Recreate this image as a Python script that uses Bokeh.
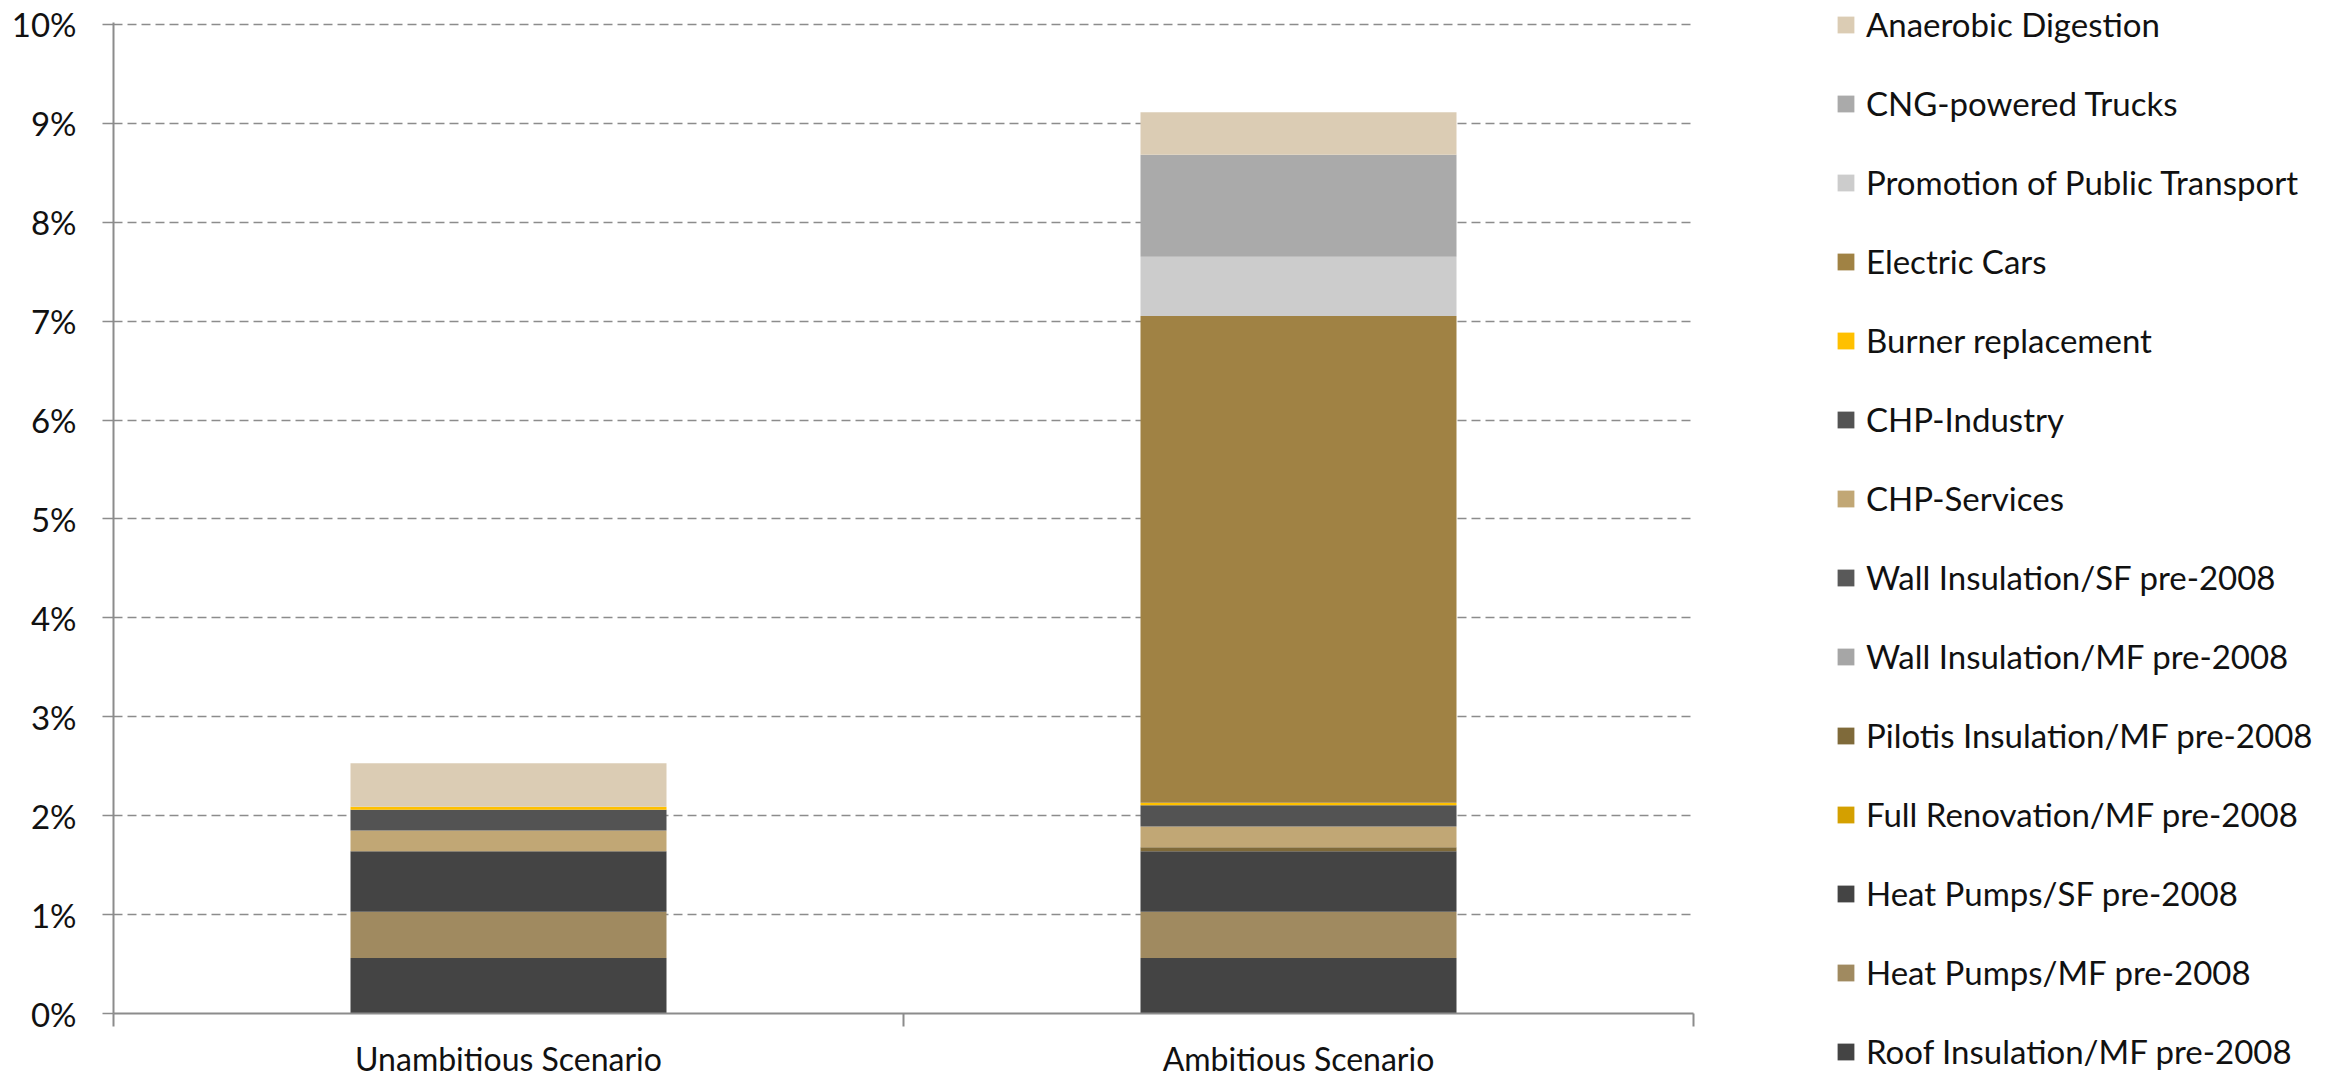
from bokeh.plotting import figure
from bokeh.layouts import row
from bokeh.models import Range1d, FixedTicker, Legend, LegendItem
from bokeh.embed import file_html
from bokeh.resources import INLINE

scenarios = ["Unambitious Scenario", "Ambitious Scenario"]

# series, bottom of the stack first (values in %)
series_names = [
    "Roof Insulation/MF pre-2008",
    "Heat Pumps/MF pre-2008",
    "Heat Pumps/SF pre-2008",
    "Full Renovation/MF pre-2008",
    "Pilotis Insulation/MF pre-2008",
    "Wall Insulation/MF pre-2008",
    "Wall Insulation/SF pre-2008",
    "CHP-Services",
    "CHP-Industry",
    "Burner replacement",
    "Electric Cars",
    "Promotion of Public Transport",
    "CNG-powered Trucks",
    "Anaerobic Digestion",
]
roof_mf = [0.56, 0.56]
heat_pumps_mf = [0.47, 0.47]
heat_pumps_sf = [0.61, 0.61]
full_renovation_mf = [0.0, 0.0]
pilotis_mf = [0.0, 0.04]
wall_mf = [0.0, 0.0]
wall_sf = [0.0, 0.0]
chp_services = [0.21, 0.21]
chp_industry = [0.21, 0.215]
burner = [0.03, 0.027]
electric_cars = [0.0, 4.92]
public_transport = [0.0, 0.60]
cng_trucks = [0.0, 1.03]
anaerobic = [0.44, 0.43]

colors = ["#444444", "#A08A60", "#444444", "#D4A000", "#7F6A3A", "#A6A6A6",
          "#595959", "#C1A775", "#535353", "#FFC000", "#A08244", "#CCCCCC",
          "#AAAAAA", "#DBCCB4"]

y_ticks = list(range(0, 11))

FONT = "Lato"
FS = "33px"

# category slots: scenario i occupies [i, i+1] on the x scale
n_cat = len(scenarios)
centers = [i + 0.5 for i in range(n_cat)]
edges = list(range(n_cat + 1))

series_values = [roof_mf, heat_pumps_mf, heat_pumps_sf, full_renovation_mf,
                 pilotis_mf, wall_mf, wall_sf, chp_services, chp_industry,
                 burner, electric_cars, public_transport, cng_trucks, anaerobic]
data = {"x": centers}
for name, vals in zip(series_names, series_values):
    data[name] = vals

p = figure(width=1700, height=1080, output_backend="svg", toolbar_location=None,
           x_range=Range1d(0, n_cat), y_range=Range1d(0, 10.02),
           min_border_left=113, min_border_right=7, min_border_top=22,
           min_border_bottom=64)
p.outline_line_color = None
p.background_fill_color = "white"
p.border_fill_color = "white"

renderers = p.vbar_stack(series_names, x="x", width=0.4, source=data,
                         color=colors, line_color=None)

xa = p.xaxis[0]
xa.ticker = FixedTicker(ticks=centers, minor_ticks=edges)
xa.major_label_overrides = {c: s for c, s in zip(centers, scenarios)}
xa.major_tick_out = 0
xa.major_tick_in = 0
xa.major_tick_line_color = None
xa.minor_tick_out = 13
xa.minor_tick_in = 0
xa.minor_tick_line_color = "#8c8c8c"
xa.minor_tick_line_width = 2
xa.axis_line_color = "#8c8c8c"
xa.axis_line_width = 2
xa.major_label_standoff = 12
xa.major_label_text_font = FONT
xa.major_label_text_font_size = "32px"
xa.major_label_text_color = "#111111"

ya = p.yaxis[0]
ya.ticker = FixedTicker(ticks=y_ticks)
ya.major_label_overrides = {t: f"{t}%" for t in y_ticks}
ya.major_tick_out = 11
ya.major_tick_in = 0
ya.minor_tick_line_color = None
ya.axis_line_color = "#8c8c8c"
ya.axis_line_width = 2
ya.major_tick_line_color = "#8c8c8c"
ya.major_tick_line_width = 1.5
ya.major_label_standoff = 26
ya.major_label_text_font = FONT
ya.major_label_text_font_size = FS
ya.major_label_text_color = "#111111"

p.xgrid.visible = False
p.ygrid.ticker = FixedTicker(ticks=y_ticks[1:])
p.ygrid.grid_line_color = "#8c8c8c"
p.ygrid.grid_line_dash = "9 5"
p.ygrid.grid_line_width = 1.5

# legend panel: its own figure to the right of the chart
q = figure(width=649, height=1080, output_backend="svg", toolbar_location=None,
           x_range=Range1d(0, 1), y_range=Range1d(0, 1),
           x_axis_type=None, y_axis_type=None, min_border=0)
q.outline_line_color = None
q.background_fill_color = "white"
q.border_fill_color = "white"
q.xgrid.visible = False
q.ygrid.visible = False

# do not align the legend panel's frame with the chart's frame
if "frame_align" in q.properties():
    q.frame_align = False
    p.frame_align = False

items = []
for name, c, vals in zip(series_names, colors, series_values):
    # hidden proxy renderer: only used for the legend swatch
    r = q.vbar(x=centers, top=vals, width=0.4, color=c, line_color=None,
               visible=False)
    items.append(LegendItem(label=name, renderers=[r]))
items = items[::-1]
legend = Legend(items=items, location=(135, 9), orientation="vertical",
                glyph_width=21, glyph_height=21, label_height=40,
                label_standoff=10, spacing=39, padding=0, margin=0,
                border_line_color=None, background_fill_alpha=0,
                inactive_fill_alpha=0,
                label_text_font=FONT, label_text_font_size=FS,
                label_text_color="#111111")
q.add_layout(legend)

layout = row(p, q, spacing=0)
open("out.html", "w").write(file_html(layout, INLINE))
